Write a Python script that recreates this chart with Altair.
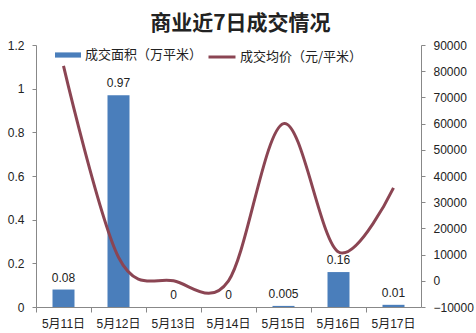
import altair as alt
import pandas as pd

dates = ["5月11日", "5月12日", "5月13日", "5月14日", "5月15日", "5月16日", "5月17日"]
area = [0.08, 0.97, 0, 0, 0.005, 0.16, 0.01]
area_labels = ["0.08", "0.97", "0", "0", "0.005", "0.16", "0.01"]
price = [82000, 9000, 0, 0, 60000, 11000, 35500]

s1 = "成交面积（万平米）"
s2 = "成交均价（元/平米）"

df = pd.DataFrame({
    "date": dates, "area": area, "label": area_labels, "price": price,
    "s1": [s1] * len(dates), "s2": [s2] * len(dates),
})

FONT = "Liberation Sans, Noto Sans CJK SC"
CJK = "Noto Sans CJK SC"
BLUE = "#4A7EBB"
RED = "#8B4553"
AX = "#888888"
TXT = "#222222"

xaxis = alt.Axis(title=None, labelAngle=0, bandPosition=0, tickSize=5, tickColor=AX,
                 domainColor=AX, labelPadding=6, labelFontSize=12, labelFont=FONT,
                 labelColor=TXT, grid=False)
xenc = alt.X("date:N", sort=dates, axis=xaxis,
             scale=alt.Scale(paddingInner=0, paddingOuter=0))

yleft = alt.Y("area:Q", scale=alt.Scale(domain=[0, 1.2], nice=False),
              axis=alt.Axis(title=None, orient="left", values=[0, 0.2, 0.4, 0.6, 0.8, 1, 1.2],
                            format="~g", tickSize=4, tickColor=AX, domainColor=AX,
                            labelPadding=8, labelFontSize=12, labelFont=FONT,
                            labelColor=TXT, grid=False))

bars = alt.Chart(df).mark_bar(size=22).encode(
    x=xenc,
    y=yleft,
    fill=alt.Fill("s1:N", scale=alt.Scale(range=[BLUE]),
                  legend=alt.Legend(title=None, orient="none", legendX=19, legendY=-3,
                                    symbolType="M-1,-0.2H1V0.2H-1Z", symbolSize=676,
                                    symbolStrokeWidth=0, labelFontSize=13, labelFont=CJK,
                                    labelColor=TXT, labelOffset=4, padding=0)),
)

texts = alt.Chart(df).mark_text(dy=-5, baseline="bottom", fontSize=12, font=FONT,
                                color=TXT).encode(
    x=xenc,
    y=yleft,
    text="label:N",
)

line = alt.Chart(df).mark_line(interpolate="cardinal", strokeWidth=3).encode(
    x=xenc,
    y=alt.Y("price:Q", scale=alt.Scale(domain=[-10000, 90000], nice=False),
            axis=alt.Axis(title=None, orient="right",
                          values=list(range(-10000, 90001, 10000)), format="d",
                          tickSize=4, tickColor=AX, domainColor=AX, labelPadding=8,
                          labelFontSize=12, labelFont=FONT, labelColor=TXT,
                          grid=False)),
    stroke=alt.Stroke("s2:N", scale=alt.Scale(range=[RED]),
                      legend=alt.Legend(title=None, orient="none", legendX=171, legendY=-3,
                                        symbolType="stroke", symbolSize=729,
                                        symbolStrokeWidth=3, labelFontSize=13,
                                        labelFont=CJK, labelColor=TXT,
                                        labelOffset=3, padding=0)),
)

chart = alt.layer(alt.layer(bars, texts), line).resolve_scale(
    y="independent", fill="independent", stroke="independent"
).properties(
    width=385, height=262,
    padding={"left": 36, "top": 45, "right": 55, "bottom": 26},
    autosize=alt.AutoSizeParams(type="none"),
    title=alt.TitleParams("商业近7日成交情况", fontSize=21, fontWeight="bold",
                          font=CJK, anchor="middle", frame="bounds",
                          offset=5, color=TXT),
    background="white",
).configure_view(stroke=None)

chart.save("out.html", embed_options={"renderer": "svg", "actions": False})
